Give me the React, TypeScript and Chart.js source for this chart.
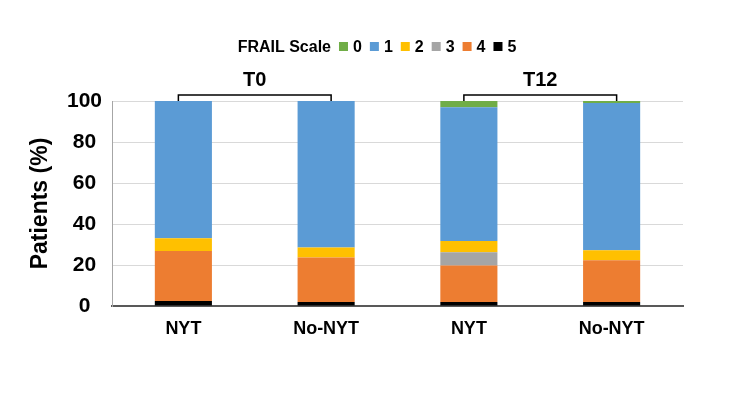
import React, { useEffect, useRef } from "react";
import { Chart, registerables } from "chart.js";

Chart.register(...registerables);

const categories = ["NYT", "No-NYT", "NYT", "No-NYT"];
const groupLabels = ["T0", "T12"];
const groupMembers = [
  [0, 1],
  [2, 3],
];
const levelLabels = ["0", "1", "2", "3", "4", "5"];
const frail0 = [0, 0, 3, 1];
const frail1 = [67, 71.5, 65.3, 71.8];
const frail2 = [6.2, 4.9, 5.5, 4.9];
const frail3 = [0, 0, 6.5, 0];
const frail4 = [24.4, 21.6, 17.7, 20.3];
const frail5 = [2.4, 2, 2, 2];
const levelColors = ["#70AD47", "#5B9BD5", "#FFC000", "#A5A5A5", "#ED7D31", "#000000"];

const FONT = "'Liberation Sans', Arial, sans-serif";

const legendPlugin = {
  id: "frailLegend",
  afterDraw(chart: any) {
    const ctx = chart.ctx;
    ctx.save();
    ctx.font = `bold 16px ${FONT}`;
    ctx.textBaseline = "alphabetic";
    ctx.textAlign = "left";
    const title = "FRAIL Scale";
    const box = 9;
    const gapBoxText = 5;
    const gapItem = 8;
    const titleGap = 8;
    const titleW = ctx.measureText(title).width;
    let total = titleW + titleGap;
    levelLabels.forEach((l, i) => {
      total += box + gapBoxText + ctx.measureText(l).width + (i < levelLabels.length - 1 ? gapItem : 0);
    });
    let x = chart.width / 2 - total / 2 + 2;
    const baseline = 52;
    ctx.fillStyle = "#000";
    ctx.fillText(title, x, baseline);
    x += titleW + titleGap;
    levelLabels.forEach((l, i) => {
      ctx.fillStyle = levelColors[i];
      ctx.fillRect(x, baseline - box - 1, box, box);
      x += box + gapBoxText;
      ctx.fillStyle = "#000";
      ctx.fillText(l, x, baseline);
      x += ctx.measureText(l).width + gapItem;
    });
    ctx.restore();
  },
};

const bracketPlugin = {
  id: "groupBrackets",
  afterDraw(chart: any) {
    const ctx = chart.ctx;
    const xs = chart.scales.x;
    const top = chart.chartArea.top;
    ctx.save();
    ctx.strokeStyle = "#000";
    ctx.lineWidth = 1.5;
    ctx.fillStyle = "#000";
    ctx.font = `bold 20px ${FONT}`;
    ctx.textAlign = "center";
    ctx.textBaseline = "middle";
    groupMembers.forEach((m, gi) => {
      const x1 = xs.getPixelForValue(m[0]) - 5;
      const x2 = xs.getPixelForValue(m[m.length - 1]) + 5;
      const yTop = top - 6;
      ctx.beginPath();
      ctx.moveTo(x1, top);
      ctx.lineTo(x1, yTop);
      ctx.lineTo(x2, yTop);
      ctx.lineTo(x2, top);
      ctx.stroke();
      ctx.fillText(groupLabels[gi], (x1 + x2) / 2, top - 21);
    });
    ctx.restore();
  },
};

export default function App() {
  const ref = useRef<HTMLCanvasElement | null>(null);
  useEffect(() => {
    if (!ref.current) return;
    const series = [frail0, frail1, frail2, frail3, frail4, frail5];
    const datasets = [5, 4, 3, 2, 1, 0].map((i) => ({
      label: levelLabels[i],
      data: series[i],
      backgroundColor: levelColors[i],
      borderWidth: 0,
      stack: "s",
      categoryPercentage: 1,
      barPercentage: 0.4,
    }));
    const chart = new Chart(ref.current, {
      type: "bar",
      data: { labels: categories, datasets },
      plugins: [legendPlugin, bracketPlugin],
      options: {
        animation: false,
        responsive: false,
        maintainAspectRatio: false,
        layout: { padding: { top: 101, right: 67, bottom: 70, left: 0 } },
        plugins: { legend: { display: false }, tooltip: { enabled: false } },
        scales: {
          x: {
            stacked: true,
            grid: { display: false, drawTicks: false },
            border: { display: true, color: "#595959", width: 2 },
            ticks: {
              color: "#000",
              padding: 12,
              font: { family: FONT, size: 18, weight: "bold" },
            },
            afterFit(scale: any) {
              scale.height = 40;
            },
          },
          y: {
            stacked: true,
            min: 0,
            max: 100,
            grid: {
              drawTicks: false,
              color: (c: any) => (c.tick && c.tick.value === 0 ? "rgba(0,0,0,0)" : "#d9d9d9"),
              lineWidth: 1,
            },
            border: { display: true, color: "#a6a6a6", width: 1 },
            ticks: {
              stepSize: 10,
              color: "#000",
              padding: 10,
              crossAlign: "center",
              font: { family: FONT, size: 21, weight: "bold" },
              callback: (v: any) => (Number(v) % 20 === 0 ? String(v) : ""),
            },
            title: {
              display: true,
              text: "Patients (%)",
              color: "#000",
              font: { family: FONT, size: 23, weight: "bold" },
              padding: { top: 27, bottom: 0 },
            },
            afterFit(scale: any) {
              scale.width = 112;
            },
          },
        },
      },
    } as any);
    return () => chart.destroy();
  }, []);
  return (
    <div style={{ position: "absolute", left: 0, top: 0, width: 750, height: 416, background: "#fff" }}>
      <canvas ref={ref} width={750} height={416} style={{ width: 750, height: 416 }} />
    </div>
  );
}
